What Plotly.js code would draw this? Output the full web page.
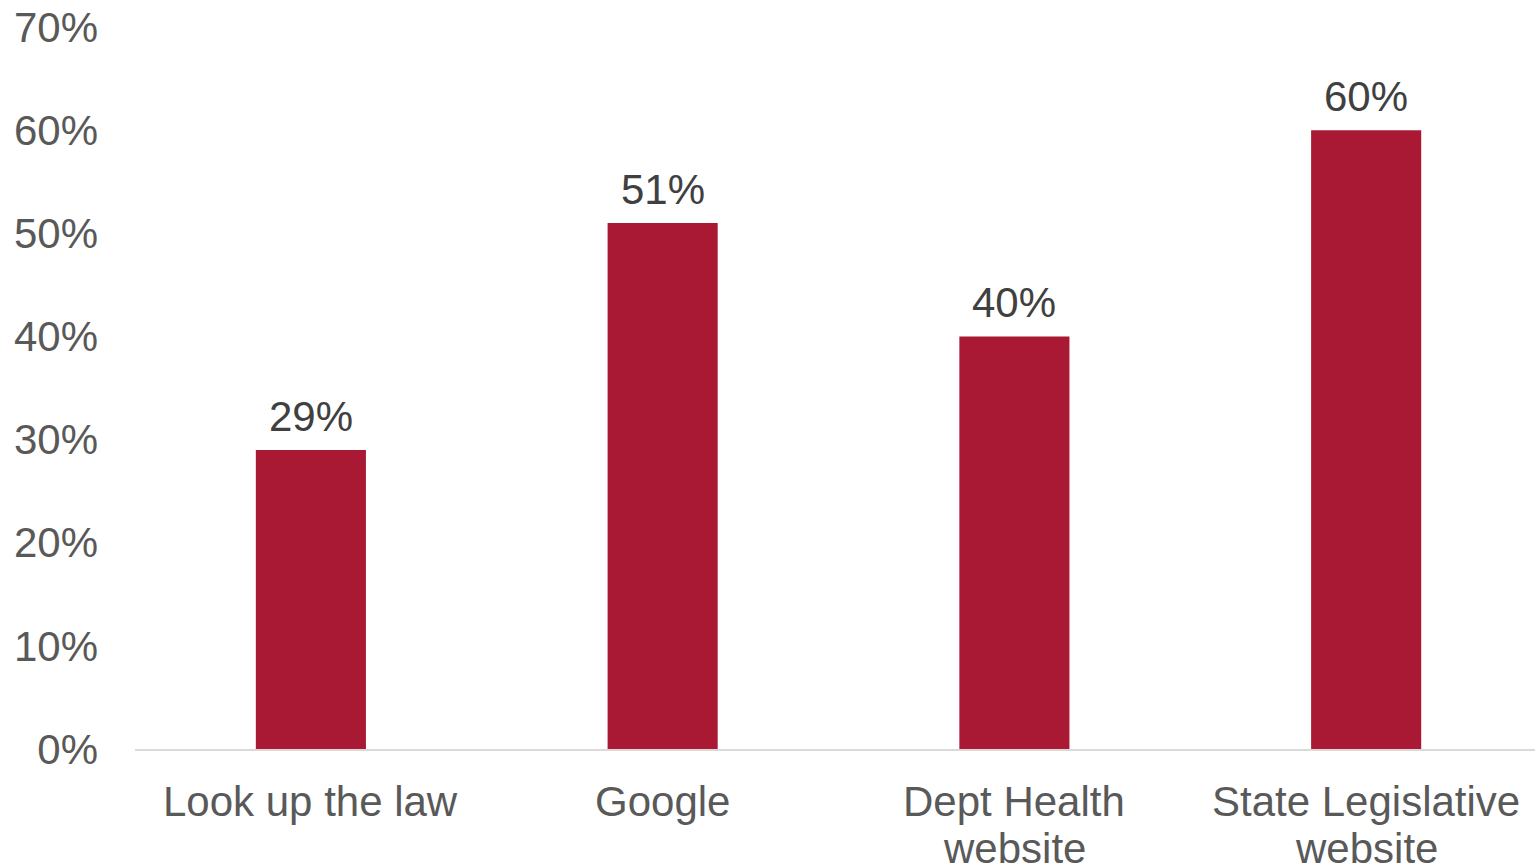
<!DOCTYPE html>
<html>
<head>
<meta charset="utf-8">
<script src="https://cdn.plot.ly/plotly-3.0.1.min.js"></script>
<style>html,body{margin:0;padding:0;background:#fff;}#chart{width:1535px;height:866px;}</style>
</head>
<body>
<div id="chart"></div>
<script>
const categories = ["Look up the law", "Google", "Dept Health<br>website", "State Legislative<br>website"];
const values = [0.29, 0.51, 0.40, 0.60];
const valueLabels = ["29%", "51%", "40%", "60%"];
const yTickVals = [0, 0.1, 0.2, 0.3, 0.4, 0.5, 0.6, 0.7];
const yTickText = ["0%", "10%", "20%", "30%", "40%", "50%", "60%", "70%"];

const FONT = "Liberation Sans, Arial, sans-serif";

const trace = {
  type: "bar",
  x: categories,
  y: values,
  marker: {color: "#A91933"},
  hoverinfo: "none"
};

const annotations = categories.map((c, i) => ({
  x: c, y: values[i], xref: "x", yref: "y",
  text: valueLabels[i], showarrow: false,
  yanchor: "bottom", yshift: 8,
  font: {family: FONT, size: 42, color: "#404040"}
}));

// category labels drawn line by line (tighter line spacing than Plotly's tick labels)
const lineShifts = [-52, -99];
categories.forEach((c) => {
  c.split("<br>").forEach((line, j) => {
    annotations.push({
      x: c, y: 0, xref: "x", yref: "paper",
      text: line, showarrow: false,
      yanchor: "middle", yshift: lineShifts[j],
      font: {family: FONT, size: 42, color: "#595959"}
    });
  });
});

const layout = {
  width: 1535, height: 866,
  margin: {l: 135, r: 0, t: 27, b: 117},
  paper_bgcolor: "#fff", plot_bgcolor: "#fff",
  bargap: 0.687,
  showlegend: false,
  xaxis: {
    type: "category",
    range: [-0.5, 3.48],
    showgrid: false, zeroline: false,
    showline: true, linecolor: "#D9D9D9", linewidth: 2,
    ticks: "", showticklabels: false,
    fixedrange: true
  },
  yaxis: {
    range: [0, 0.7],
    tickvals: yTickVals, ticktext: yTickText,
    showgrid: false, zeroline: false, showline: false,
    ticks: "", ticklabelstandoff: 36,
    tickfont: {family: FONT, size: 42, color: "#595959"},
    fixedrange: true
  },
  annotations: annotations
};

Plotly.newPlot("chart", [trace], layout, {displayModeBar: false, staticPlot: true});
</script>
</body>
</html>
